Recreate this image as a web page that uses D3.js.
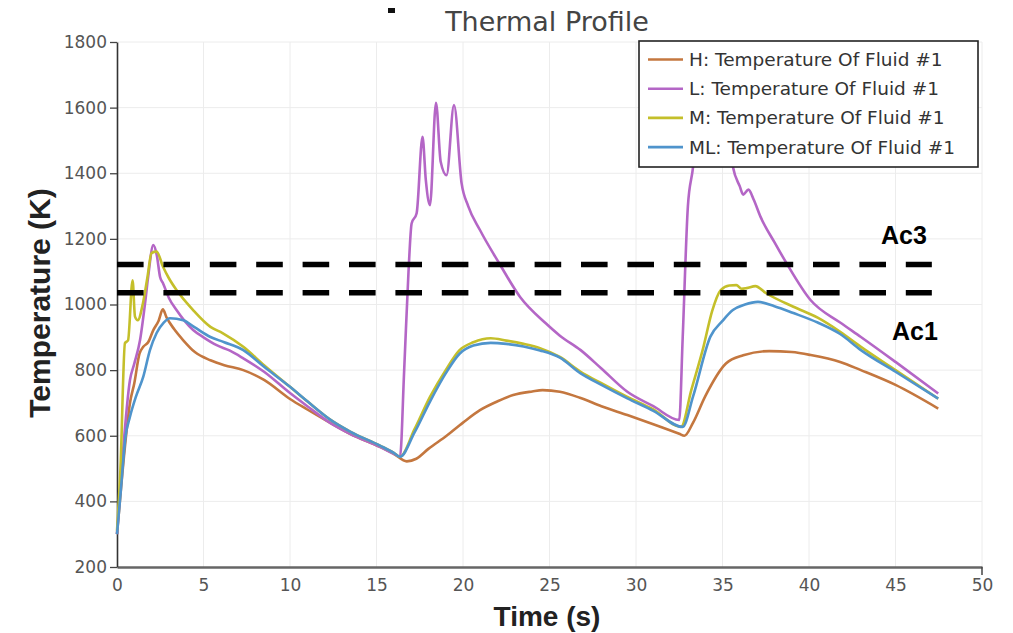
<!DOCTYPE html>
<html>
<head>
<meta charset="utf-8">
<script src="https://cdn.jsdelivr.net/npm/d3@7"></script>
<style>
  html, body { margin: 0; padding: 0; background: #fff; }
  svg { display: block; }
</style>
</head>
<body>
<svg id="chart" width="1013" height="633"></svg>
<script>
// Time ticks (s) and temperature ticks (K)
const xTicks = [0, 5, 10, 15, 20, 25, 30, 35, 40, 45, 50];
const yTicks = [200, 400, 600, 800, 1000, 1200, 1400, 1600, 1800];

// Critical transformation temperatures (K)
const ac3 = 1122;
const ac1 = 1036;

// Series names as shown in the legend
const seriesNames = [
  "H: Temperature Of Fluid #1",
  "L: Temperature Of Fluid #1",
  "M: Temperature Of Fluid #1",
  "ML: Temperature Of Fluid #1"
];

// [time (s), temperature (K)]
const seriesH = [
  [0, 300], [0.3, 480], [0.75, 700], [1.0, 760], [1.3, 850], [1.52, 871], [1.8, 885],
  [2.1, 922], [2.4, 950], [2.65, 985], [2.87, 960], [3.3, 925], [3.83, 891], [4.5, 855],
  [5.4, 830], [6.2, 815], [7.3, 800], [8.5, 770], [10, 712], [11, 680], [12.3, 640],
  [13.5, 605], [15.2, 566], [16.0, 545], [16.75, 522], [17.3, 530], [18, 560],
  [19.05, 600], [20, 640], [20.98, 678], [22, 705], [22.9, 724], [24, 735], [24.6, 739],
  [25.6, 734], [26.8, 715], [28, 690], [29.5, 663], [31, 635], [32.5, 606], [32.8, 600],
  [33.3, 640], [34, 720], [35.2, 820], [36.2, 845], [37.7, 858], [39, 855], [40.1, 846],
  [41.8, 825], [43, 800], [45, 755], [47.47, 683]
];

const seriesL = [
  [0, 300], [0.3, 520], [0.75, 770], [1.0, 820], [1.33, 891], [1.62, 1003], [1.8, 1084],
  [2.1, 1181], [2.3, 1150], [2.49, 1084], [2.66, 1065], [3.0, 1020], [3.44, 983],
  [4.4, 922], [5.0, 900], [5.76, 876], [6.5, 860], [7.3, 836], [8.5, 795], [10, 730],
  [11, 690], [12.3, 640], [13.5, 605], [15.2, 566], [16.0, 545], [16.36, 536],
  [16.6, 800], [16.85, 1100], [17.03, 1247], [17.32, 1278], [17.66, 1511], [17.85, 1380],
  [18.09, 1303], [18.44, 1615], [18.71, 1435], [19.05, 1394], [19.48, 1608],
  [19.92, 1369], [20.3, 1300], [20.98, 1227], [22.1, 1125], [23.3, 1023], [24.8, 942],
  [25.6, 905], [26.8, 861], [28, 805], [29.5, 734], [31, 690], [32.5, 648], [32.7, 900],
  [33.0, 1300], [33.3, 1420], [33.6, 1600], [34.0, 1720], [34.5, 1650], [35.0, 1700],
  [35.6, 1420], [36.0, 1360], [36.2, 1335], [36.5, 1350], [36.8, 1320], [37.2, 1267],
  [38.0, 1190], [38.7, 1126], [40.1, 1013], [41.8, 945], [43, 901], [45, 825],
  [47.47, 729]
];

const seriesM = [
  [0, 310], [0.2, 500], [0.46, 882], [0.64, 891], [0.9, 1074], [1.04, 963], [1.2, 952],
  [1.5, 1004], [1.75, 1080], [2.0, 1157], [2.29, 1161], [2.66, 1115], [3.0, 1080],
  [3.44, 1044], [4.4, 983], [5.4, 932], [6.1, 913], [7.3, 871], [8.5, 815], [10, 749],
  [11, 705], [12.3, 650], [13.5, 612], [15.2, 570], [16.0, 548], [16.36, 536],
  [17.2, 620], [18.1, 719], [19.0, 800], [19.8, 861], [20.6, 885], [21.6, 897],
  [22.5, 890], [23.5, 880], [24.45, 867], [25.6, 840], [26.8, 795], [28, 760],
  [29.5, 718], [31, 680], [32.6, 627], [33.2, 740], [33.9, 871], [34.4, 980],
  [34.9, 1044], [35.4, 1058], [35.8, 1059], [36.1, 1048], [36.4, 1050], [36.9, 1056],
  [37.5, 1035], [39.1, 993], [40.5, 960], [41.8, 917], [43, 871], [45, 800],
  [47.47, 713]
];

const seriesML = [
  [0, 300], [0.2, 420], [0.5, 600], [0.75, 658], [1.1, 720], [1.52, 780], [1.9, 860],
  [2.29, 913], [2.7, 945], [3.06, 958], [3.83, 952], [4.5, 930], [5.4, 901], [6.2, 885],
  [7.3, 861], [8.5, 810], [10, 749], [11, 705], [12.3, 650], [13.5, 612], [15.2, 570],
  [16.0, 548], [16.36, 536], [17.2, 610], [18.1, 705], [19.0, 790], [19.8, 850],
  [20.6, 875], [21.6, 883], [22.5, 880], [23.5, 872], [24.45, 860], [25.6, 838],
  [26.8, 790], [28, 755], [29.5, 714], [31, 676], [32.7, 627], [33.3, 720], [34.3, 902],
  [35.0, 950], [35.6, 983], [36.3, 1000], [37.05, 1008], [38.0, 995], [39.1, 974],
  [40.5, 945], [41.8, 910], [43, 861], [45, 795], [47.47, 713]
];

const seriesData = [seriesH, seriesL, seriesM, seriesML];
const seriesColors = ["#c4773f", "#b466c6", "#c4bf2a", "#4f94cc"];

const svg = d3.select("#chart");
const margin = { left: 117, top: 42, right: 31, bottom: 66 };
const W = 1013, H = 633;
const innerW = W - margin.left - margin.right;
const innerH = H - margin.top - margin.bottom;

const x = d3.scaleLinear().domain([0, 50]).range([margin.left, margin.left + innerW]);
const y = d3.scaleLinear().domain([200, 1800]).range([margin.top + innerH, margin.top]);

const fontFace = "'DejaVu Sans', 'Noto Sans', sans-serif";
const boldFace = "'Liberation Sans', Arial, sans-serif";

// Light grid
const grid = svg.append("g");
grid.selectAll("line.vx").data(xTicks.slice(1)).join("line")
  .attr("x1", d => x(d)).attr("x2", d => x(d))
  .attr("y1", margin.top).attr("y2", margin.top + innerH)
  .attr("stroke", "#ececec").attr("stroke-width", 1);
grid.selectAll("line.hy").data(yTicks.slice(1)).join("line")
  .attr("x1", margin.left).attr("x2", margin.left + innerW)
  .attr("y1", d => y(d)).attr("y2", d => y(d))
  .attr("stroke", "#ececec").attr("stroke-width", 1);

// Axes
const xAxis = svg.append("g")
  .attr("transform", `translate(0,${margin.top + innerH})`)
  .call(d3.axisBottom(x).tickValues(xTicks).tickFormat(d3.format("d")).tickSize(0).tickPadding(12));
xAxis.select(".domain").attr("stroke", "#666").attr("stroke-width", 2.5);
xAxis.selectAll("text").attr("font-family", fontFace).attr("font-size", 17).attr("fill", "#555");

const yAxis = svg.append("g")
  .attr("transform", `translate(${margin.left},0)`)
  .call(d3.axisLeft(y).tickValues(yTicks).tickFormat(d3.format("d")).tickSize(7).tickPadding(3).tickSizeOuter(0));
yAxis.select(".domain").attr("stroke", "#333").attr("stroke-width", 1.6);
yAxis.selectAll(".tick line").attr("stroke", "#444").attr("stroke-width", 1.3);
yAxis.selectAll("text").attr("font-family", fontFace).attr("font-size", 17).attr("fill", "#555");

// End tick on the time axis
svg.append("line")
  .attr("x1", x(50)).attr("x2", x(50))
  .attr("y1", margin.top + innerH).attr("y2", margin.top + innerH + 8)
  .attr("stroke", "#444").attr("stroke-width", 1.5);

// Temperature curves
const line = d3.line()
  .x(d => x(d[0]))
  .y(d => y(d[1]))
  .curve(d3.curveMonotoneX);

svg.append("g").selectAll("path").data(seriesData).join("path")
  .attr("d", line)
  .attr("fill", "none")
  .attr("stroke", (d, i) => seriesColors[i])
  .attr("stroke-width", 2.6)
  .attr("stroke-linejoin", "round");

// Ac3 / Ac1 reference lines
const refEnd = 47.1;
[ac3, ac1].forEach(v => {
  svg.append("line")
    .attr("x1", x(0)).attr("x2", x(refEnd))
    .attr("y1", y(v)).attr("y2", y(v))
    .attr("stroke", "#000").attr("stroke-width", 5.5)
    .attr("stroke-dasharray", "26.6 19.8");
});
svg.append("text")
  .attr("x", 904).attr("y", y(ac3) - 20)
  .attr("text-anchor", "middle")
  .attr("font-family", boldFace)
  .attr("font-weight", "bold").attr("font-size", 25).attr("fill", "#000")
  .text("Ac3");
svg.append("text")
  .attr("x", 915).attr("y", y(ac1) + 47)
  .attr("text-anchor", "middle")
  .attr("font-family", boldFace)
  .attr("font-weight", "bold").attr("font-size", 25).attr("fill", "#000")
  .text("Ac1");

// Legend
const legend = svg.append("g").attr("transform", "translate(639,41)");
legend.append("rect")
  .attr("width", 339).attr("height", 126)
  .attr("fill", "#fff").attr("stroke", "#222").attr("stroke-width", 1.6);
const rows = legend.selectAll("g.row").data(seriesNames).join("g")
  .attr("transform", (d, i) => `translate(0,${18.5 + i * 29.2})`);
rows.append("line")
  .attr("x1", 9).attr("x2", 44).attr("y1", 0).attr("y2", 0)
  .attr("stroke", (d, i) => seriesColors[i]).attr("stroke-width", 2.6);
rows.append("text")
  .attr("x", 50).attr("y", 6.5)
  .attr("font-family", fontFace).attr("font-size", 18.5).attr("fill", "#333")
  .text(d => d);

// Title
svg.append("text")
  .attr("x", 547).attr("y", 31)
  .attr("text-anchor", "middle")
  .attr("font-family", fontFace).attr("font-size", 27).attr("fill", "#444")
  .text("Thermal Profile");
svg.append("rect")
  .attr("x", 388).attr("y", 8).attr("width", 7).attr("height", 5).attr("fill", "#111");

// Axis titles
svg.append("text")
  .attr("x", 547).attr("y", 626)
  .attr("text-anchor", "middle")
  .attr("font-family", boldFace)
  .attr("font-weight", "bold").attr("font-size", 28).attr("fill", "#222")
  .text("Time (s)");
svg.append("text")
  .attr("transform", "translate(50,303) rotate(-90)")
  .attr("text-anchor", "middle")
  .attr("font-family", boldFace)
  .attr("font-weight", "bold").attr("font-size", 30).attr("fill", "#222")
  .text("Temperature (K)");
</script>
</body>
</html>
